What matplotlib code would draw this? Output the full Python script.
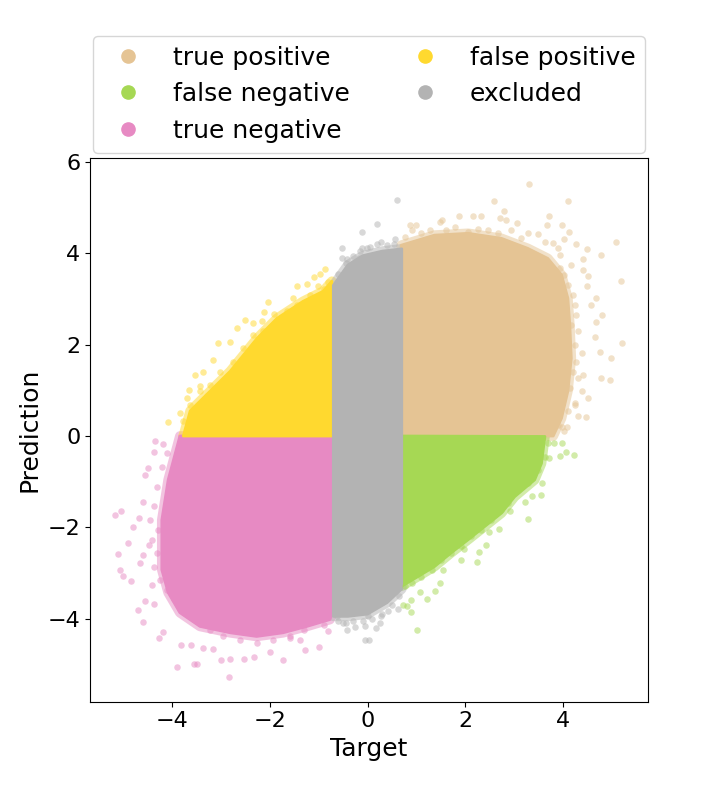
import numpy as np
import matplotlib.pyplot as plt
from matplotlib.lines import Line2D

# class colours (Set2)
c_tp = "#e5c494"
c_fn = "#a6d854"
c_tn = "#e78ac3"
c_fp = "#ffd92f"
c_ex = "#b3b3b3"

labels = ["true positive", "false negative", "true negative", "false positive", "excluded"]

# dense core of each class, outline (target, prediction)
tp_core_x = [0.70, 0.69, 1.37, 2.06, 2.74, 3.28, 3.69, 3.97, 4.10, 4.14, 4.17, 4.10, 3.97, 3.80, 0.70]
tp_core_y = [0.00, 4.18, 4.40, 4.44, 4.33, 4.11, 3.89, 3.53, 3.02, 2.43, 1.70, 0.98, 0.39, 0.00, 0.00]

fn_core_x = [0.70, 3.63, 3.56, 3.42, 3.01, 2.74, 2.40, 2.06, 1.71, 1.37, 1.03, 0.70]
fn_core_y = [0.00, -0.01, -0.60, -0.96, -1.33, -1.69, -1.98, -2.27, -2.56, -2.86, -3.08, -3.29]

tn_core_x = [-0.71, -3.84, -4.08, -4.21, -4.21, -4.08, -3.84, -3.43, -2.81, -2.27, -1.73, -1.24, -0.77, -0.71]
tn_core_y = [0.00, 0.00, -0.96, -1.84, -2.93, -3.43, -3.87, -4.17, -4.31, -4.39, -4.31, -4.17, -4.02, -3.85]

fp_core_x = [-3.77, -3.63, -2.81, -2.26, -1.85, -1.32, -0.91, -0.73, -0.73]
fp_core_y = [0.00, 0.55, 1.42, 2.14, 2.58, 2.95, 3.17, 3.39, 0.00]

ex_core_x = [-0.70, -0.40, -0.10, 0.30, 0.70, 0.70, 0.40, 0.00, -0.40, -0.70]
ex_core_y = [3.30, 3.75, 3.95, 4.05, 4.10, -3.35, -3.65, -3.90, -3.95, -3.95]

# scattered points around the dense core
tp_x = [3.30, 2.59, 4.10, 2.79, 1.87, 2.16, 2.33, 2.72, 2.84, 3.06, 3.71, 3.68, 3.97, 4.12,
        0.86, 1.00, 1.48, 1.52, 5.09, 4.77, 4.50, 4.27, 4.02, 4.41, 4.51, 4.41, 5.18, 4.68,
        4.50, 4.58, 4.80, 4.68, 4.65, 5.21, 4.99, 4.75, 4.77, 4.97, 4.51, 4.48, 4.24, 4.41,
        3.97, 4.09, 4.31, 3.93, 4.03, 4.17, 4.10, 4.20, 4.24, 4.27, 4.17, 4.31, 4.24, 4.38,
        4.27, 4.20, 4.31, 4.14, 4.38, 4.24, 4.10, 3.90, 4.03, 0.76, 0.90, 1.10, 1.27, 1.61,
        1.78, 2.06, 2.26, 2.47, 2.67, 2.94, 3.15, 3.28, 3.49, 3.63, 3.80, 3.90, 3.93]
tp_y = [5.53, 5.14, 5.15, 4.92, 4.82, 4.82, 4.82, 4.77, 4.73, 4.67, 4.82, 4.63, 4.63, 4.46,
        4.62, 4.62, 4.69, 4.73, 4.26, 3.96, 4.09, 4.20, 4.31, 3.88, 3.51, 3.64, 3.40, 3.03,
        3.29, 2.87, 2.65, 2.49, 2.18, 2.03, 1.70, 1.85, 1.27, 1.23, 0.83, 0.42, 0.72, 1.34,
        0.19, 0.19, 0.43, 3.67, 3.53, 3.74, 3.31, 3.09, 2.87, 2.65, 2.43, 2.29, 2.00, 1.81,
        1.63, 1.41, 1.27, 1.05, 0.98, 0.68, 0.54, 0.25, 0.10, 4.36, 4.51, 4.44, 4.51, 4.51,
        4.58, 4.47, 4.53, 4.51, 4.44, 4.51, 4.33, 4.44, 4.42, 4.26, 4.22, 4.11, 3.96]

fn_x = [4.22, 4.07, 3.97, 3.82, 3.93, 3.71, 3.57, 3.54, 3.37, 3.22, 3.28, 2.92, 2.69, 2.49,
        2.43, 2.28, 2.24, 1.97, 1.92, 1.54, 1.48, 1.39, 1.22, 1.07, 0.88, 0.88, 0.72, 0.81,
        1.01, 3.69, 3.63, 3.49, 3.28, 3.08, 2.87, 2.74, 2.53, 2.33, 2.12, 1.92, 1.71, 1.51,
        1.31, 1.10, 0.90, 0.76]
fn_y = [-0.41, -0.36, -0.16, -0.15, -0.44, -0.49, -1.02, -1.30, -1.31, -1.45, -1.82, -1.64,
        -2.03, -2.11, -2.38, -2.55, -2.75, -2.48, -2.71, -2.94, -3.22, -3.40, -3.58, -3.42,
        -3.60, -3.86, -3.71, -3.73, -4.24, -0.16, -0.45, -0.74, -1.03, -1.18, -1.47, -1.62,
        -1.84, -2.05, -2.20, -2.42, -2.56, -2.71, -2.93, -3.08, -3.22, -3.29]

tn_x = [-5.17, -5.05, -5.10, -5.06, -5.00, -4.85, -4.91, -4.79, -4.67, -4.59, -4.55, -4.49,
        -4.35, -4.19, -4.36, -4.69, -4.59, -4.55, -4.38, -4.27, -4.18, -3.90, -3.56, -3.49,
        -2.83, -3.00, -2.81, -2.52, -2.32, -1.99, -1.73, -1.28, -0.99, -3.36, -3.17, -3.82,
        -3.61, -1.59, -1.38, -0.80, -4.65, -4.59, -4.48, -4.42, -4.11, -4.21, -4.31, -4.38,
        -4.45, -4.28, -4.42, -4.31, -4.38, -4.25, -4.11, -3.97, -3.84, -3.63, -3.43, -3.22,
        -2.95, -2.61, -2.27, -1.93, -1.59, -1.31, -0.90]
tn_y = [-1.73, -1.65, -2.58, -2.94, -3.06, -3.18, -2.35, -2.00, -1.80, -1.44, -0.85, -0.71,
        -0.10, -0.18, -0.36, -3.82, -4.07, -3.61, -3.68, -4.42, -4.29, -5.05, -5.00, -5.00,
        -5.27, -4.91, -4.88, -4.88, -4.84, -4.74, -4.90, -4.68, -4.62, -4.64, -4.66, -4.57,
        -4.57, -4.42, -4.47, -4.28, -2.78, -2.60, -2.38, -3.26, -0.38, -0.67, -1.11, -1.54,
        -1.84, -2.05, -2.27, -2.56, -2.86, -3.15, -3.37, -3.58, -3.80, -3.95, -4.09, -4.24,
        -4.39, -4.46, -4.53, -4.46, -4.39, -4.24, -4.13]

fp_x = [-4.09, -3.84, -3.65, -3.69, -3.53, -3.37, -3.16, -3.07, -2.81, -2.68, -2.51, -2.34,
        -2.15, -2.12, -2.03, -1.91, -1.52, -1.45, -1.23, -1.09, -0.97, -0.87, -1.01, -3.43,
        -3.29, -3.63, -3.43, -3.22, -3.02, -2.75, -2.54, -2.34, -2.13, -1.86, -1.65, -1.45,
        -1.18, -0.90, -0.80, -3.77]
fp_y = [0.30, 0.50, 1.01, 0.83, 1.34, 1.40, 1.67, 2.03, 2.05, 2.36, 2.54, 2.47, 2.53, 2.72,
        2.94, 2.67, 3.02, 3.29, 3.34, 3.49, 3.56, 3.66, 3.29, 1.09, 0.87, 0.68, 0.98, 1.12,
        1.41, 1.63, 1.92, 2.21, 2.29, 2.51, 2.73, 2.87, 3.09, 3.23, 3.38, 0.32]

ex_x = [-0.12, -0.52, -0.12, -0.02, -0.52, -0.43, -0.17, 0.61, 0.20, 0.28, 0.56, -0.63,
        -0.43, -0.26, -0.05, -0.05, -0.50, 0.01, 0.18, 0.25, 0.42, 0.62, 0.04, 0.28, -0.60,
        -0.45, -0.30, -0.15, 0.05, 0.20, 0.40, 0.55, -0.60, -0.45, -0.30, -0.10, 0.10, 0.30,
        0.50, 0.65]
ex_y = [4.47, 4.12, 4.11, 4.11, 3.89, 3.88, 3.89, 5.16, 4.64, 4.26, 4.31, -3.95, -4.24,
        -4.18, -4.17, -4.47, -4.09, -3.95, -4.20, -4.09, -3.84, -3.80, -4.46, -3.95, 3.55,
        3.80, 3.95, 4.05, 4.15, 4.20, 4.18, 4.20, -4.05, -4.10, -4.05, -4.05, -4.00, -3.90,
        -3.70, -3.50]

plt.rcParams["xtick.labelsize"] = 16
plt.rcParams["ytick.labelsize"] = 16
plt.rcParams["axes.labelsize"] = 18
plt.rcParams["legend.fontsize"] = 18

fig = plt.figure(figsize=(7.2, 7.92), dpi=100)
ax = fig.add_axes([0.125, 0.114, 0.775, 0.6865])

groups = [
    (tp_core_x, tp_core_y, tp_x, tp_y, c_tp),
    (fn_core_x, fn_core_y, fn_x, fn_y, c_fn),
    (tn_core_x, tn_core_y, tn_x, tn_y, c_tn),
    (fp_core_x, fp_core_y, fp_x, fp_y, c_fp),
    (ex_core_x, ex_core_y, ex_x, ex_y, c_ex),
]
for cx, cy, px, py, col in groups:
    # soft rim under the cores, then the solid core, then single points
    ax.plot(cx + cx[:1], cy + cy[:1], color=col, lw=7, alpha=0.5,
            solid_joinstyle="round", solid_capstyle="round", zorder=1)
    ax.fill(cx, cy, facecolor=col, edgecolor=col, linewidth=2, joinstyle="round", zorder=2)
    ax.scatter(px, py, s=22, color=col, alpha=0.5, linewidths=0, zorder=3)

ax.set_xlim(-5.68, 5.74)
ax.set_ylim(-5.82, 6.09)
ax.set_xticks([-4, -2, 0, 2, 4])
ax.set_yticks([-4, -2, 0, 2, 4, 6])
ax.set_xlabel("Target")
ax.set_ylabel("Prediction")

handles = [Line2D([], [], marker="o", linestyle="none", markersize=9.5, color=c)
           for c in [c_tp, c_fn, c_tn, c_fp, c_ex]]
ax.legend(handles, labels, ncol=2, loc="lower center", bbox_to_anchor=(0.5, 1.01),
          borderaxespad=0)

fig.savefig("out.png", dpi=100)
